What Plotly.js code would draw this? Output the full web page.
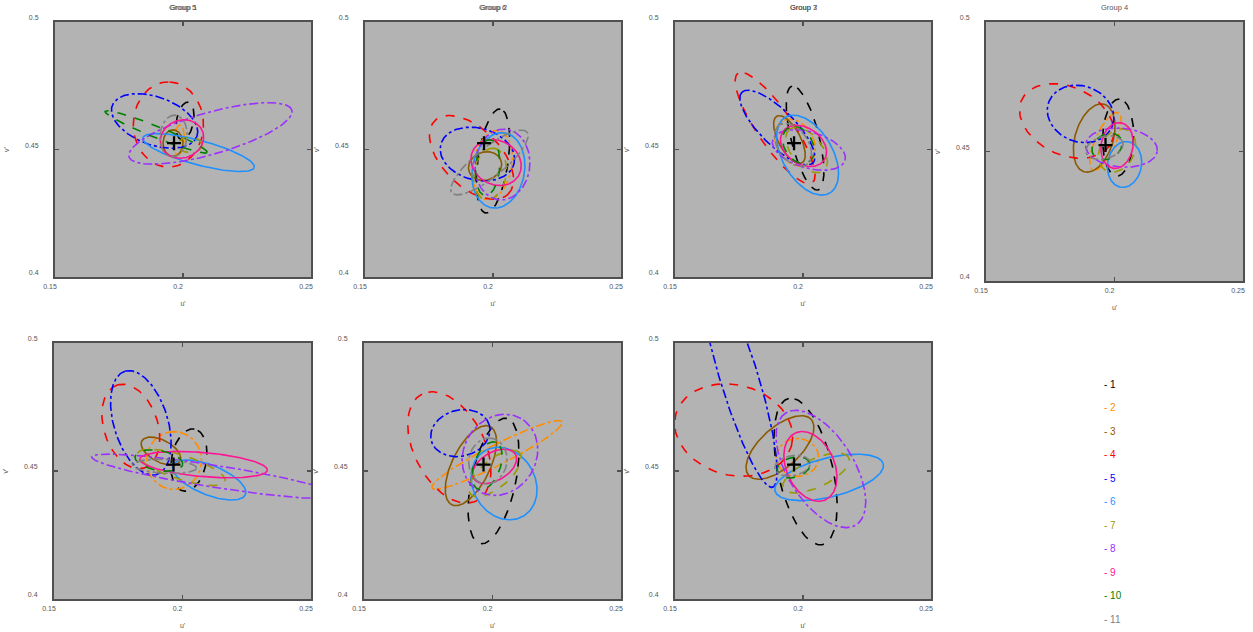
<!DOCTYPE html>
<html><head><meta charset="utf-8">
<script src="https://cdn.plot.ly/plotly-3.0.1.min.js"></script>
<style>html,body{margin:0;padding:0;background:#fff}#chart{width:1253px;height:632px}</style>
</head><body><div id="chart"></div>
<script>
// ---------- data ----------
const groupTitles = ['Group 1','Group 2','Group 3','Group 4','Group 5','Group 6','Group 7'];
const seriesLabels = ['1','2','3','4','5','6','7','8','9','10','11'];
const seriesColors = ['#000000','#ff8c00','#8b5a00','#ff0000','#0000ff','#1e90ff','#999900','#9b30ff','#ff1493','#008000','#808080'];
const seriesDash = ['dash','dashdot','solid','dash','dashdot','solid','dash','dashdot','solid','dash','dashdot'];
const whitePointU = [0.1965,0.1965,0.1965,0.1965,0.1965,0.1965,0.1965];
const whitePointV = [0.4525,0.4525,0.4525,0.4525,0.4525,0.4525,0.4525];
const uTicks = [0.15,0.2,0.25];
const uTickText = ['0.15','0.2','0.25'];
const vTicks = [0.4,0.45,0.5];
const vTickText = ['0.4','0.45','0.5'];
const uRange = [0.15,0.25];
const vRange = [0.4,0.5];
// ellipse centre u', centre v', semi-major, semi-minor, tilt (deg) : rows = groups, cols = series 1..11
const centerU = [
  [0.2008,0.1984,0.1961,0.1943,0.1889,0.2061,0.2027,0.2107,0.1996,0.1895,0.1963],
  [0.2000,0.1998,0.1969,0.1916,0.1939,0.2021,0.1988,0.2037,0.2012,0.1979,0.1986],
  [0.2008,0.1969,0.1947,0.1891,0.1900,0.2018,0.2014,0.2023,0.2002,0.1982,0.1961],
  [0.2014,0.1965,0.1921,0.1814,0.1868,0.2039,0.2010,0.2027,0.2010,0.1971,0.1961],
  [0.2025,0.1967,0.1916,0.1799,0.1838,0.2104,0.1996,0.2127,0.2082,0.1908,0.1930],
  [0.2004,0.2018,0.1916,0.1832,0.1875,0.2045,0.2010,0.2029,0.2008,0.1979,0.1982],
  [0.2010,0.1979,0.1910,0.1729,0.1750,0.2102,0.2051,0.2070,0.2029,0.1963,0.1959]
];
const centerV = [
  [0.4612,0.4537,0.4525,0.4598,0.4612,0.4488,0.4518,0.4563,0.4541,0.4569,0.4553],
  [0.4455,0.4439,0.4435,0.4469,0.4482,0.4418,0.4404,0.4441,0.4449,0.4429,0.4449],
  [0.4545,0.4527,0.4539,0.4584,0.4586,0.4478,0.4498,0.4498,0.4514,0.4518,0.4518],
  [0.4554,0.4539,0.4552,0.4618,0.4645,0.4450,0.4504,0.4515,0.4523,0.4519,0.4515],
  [0.4543,0.4541,0.4578,0.4674,0.4688,0.4465,0.4514,0.4479,0.4525,0.4541,0.4518],
  [0.4461,0.4563,0.4521,0.4592,0.4648,0.4451,0.4490,0.4563,0.4518,0.4520,0.4539],
  [0.4498,0.4553,0.4592,0.4660,0.4866,0.4475,0.4492,0.4508,0.4518,0.4514,0.4521]
];
const semiMajor = [
  [0.0075,0.0059,0.0052,0.0167,0.0176,0.0225,0.0047,0.0331,0.0086,0.0215,0.0082],
  [0.0206,0.0137,0.0066,0.0203,0.0148,0.0149,0.0102,0.0139,0.0102,0.0110,0.0189],
  [0.0210,0.0098,0.0104,0.0259,0.0196,0.0172,0.0105,0.0147,0.0098,0.0078,0.0094],
  [0.0149,0.0121,0.0136,0.0193,0.0132,0.0089,0.0089,0.0140,0.0089,0.0062,0.0074],
  [0.0123,0.0113,0.0084,0.0170,0.0211,0.0152,0.0179,0.0486,0.0249,0.0094,0.0125],
  [0.0250,0.0284,0.0170,0.0234,0.0117,0.0148,0.0125,0.0164,0.0094,0.0098,0.0090],
  [0.0293,0.0082,0.0164,0.0234,0.0449,0.0218,0.0141,0.0258,0.0143,0.0066,0.0070]
];
const semiMinor = [
  [0.0033,0.0020,0.0039,0.0137,0.0094,0.0048,0.0030,0.0082,0.0074,0.0022,0.0053],
  [0.0059,0.0075,0.0055,0.0113,0.0102,0.0102,0.0063,0.0107,0.0086,0.0047,0.0057],
  [0.0055,0.0072,0.0043,0.0070,0.0068,0.0098,0.0059,0.0071,0.0071,0.0055,0.0059],
  [0.0060,0.0040,0.0074,0.0131,0.0108,0.0066,0.0066,0.0075,0.0062,0.0047,0.0043],
  [0.0068,0.0107,0.0043,0.0105,0.0105,0.0058,0.0047,0.0043,0.0047,0.0039,0.0027],
  [0.0086,0.0040,0.0074,0.0137,0.0090,0.0121,0.0055,0.0141,0.0055,0.0051,0.0074],
  [0.0107,0.0074,0.0078,0.0176,0.0074,0.0076,0.0055,0.0129,0.0094,0.0039,0.0039]
];
const tiltDeg = [
  [80,85,90,90,-20,-15,0,16,20,-22,85],
  [82,80,20,-45,-15,80,80,85,-30,85,39],
  [104,120,118,124,135,120,130,-16,-35,120,125],
  [88,66,73,-25,-20,80,60,-5,80,30,15],
  [80,90,-28,108,107,-22,-18,-9,-5,-10,-3],
  [78,27,64,117,15,120,40,60,30,70,80],
  [103,0,42,-15,107,14,25,122,114,15,10]
];

// ---------- layout geometry (pixels) ----------
const W = 1253, H = 632;
const boxes = [[55,311,22,277],[365,621,22,277],[675,931,22,277],[986,1243,22,281],
               [54,311,343,599],[364,621,343,599],[675,931,343,599]];
const FONT = 'Liberation Sans, Arial, sans-serif';

function ellipse(cu, cv, a, b, deg) {
  const th = deg * Math.PI / 180, xs = [], ys = [];
  for (let i = 0; i <= 180; i++) {
    const t = 2 * Math.PI * i / 180;
    xs.push(cu + a * Math.cos(th) * Math.cos(t) - b * Math.sin(th) * Math.sin(t));
    ys.push(cv + a * Math.sin(th) * Math.cos(t) + b * Math.cos(th) * Math.sin(t));
  }
  return [xs, ys];
}

const traces = [];
const layout = {
  width: W, height: H, margin: {l:0, r:0, t:0, b:0},
  paper_bgcolor: '#ffffff', plot_bgcolor: '#b3b3b3',
  showlegend: false, font: {family: FONT, size: 7, color: '#444'},
  annotations: []
};

groupTitles.forEach((title, g) => {
  const sfx = g === 0 ? '' : String(g + 1);
  const [x0, x1, y0, y1] = boxes[g];
  const xa = 'x' + sfx, ya = 'y' + sfx;
  seriesLabels.forEach((lab, s) => {
    const [xs, ys] = ellipse(centerU[g][s], centerV[g][s], semiMajor[g][s], semiMinor[g][s], tiltDeg[g][s]);
    traces.push({type:'scatter', mode:'lines', x: xs, y: ys, xaxis: xa, yaxis: ya, name: lab,
      line: {color: seriesColors[s], dash: seriesDash[s], width: 1.6}, hoverinfo: 'skip'});
  });
  traces.push({type:'scatter', mode:'markers', x:[whitePointU[g]], y:[whitePointV[g]], xaxis: xa, yaxis: ya,
    marker: {symbol:'cross-thin', size: 10, line: {color:'#000', width: 2.3}}, hoverinfo:'skip'});

  const common = {showgrid:false, zeroline:false, showline:true, mirror:'ticks', linecolor:'#505050', linewidth:2,
    ticks:'inside', ticklen:4, tickwidth:1.2, tickcolor:'#505050', tickfont:{family:FONT, size:7, color:'#555'}};
  layout['xaxis' + sfx] = Object.assign({}, common, {
    domain:[x0 / W, x1 / W], range: uRange, anchor: ya, tickmode:'array', tickvals: uTicks, ticktext: uTickText,
    ticklabelshift: -5, ticklabelstandoff: 2,
    title: {text: "u'", font:{family:FONT, size:7, color:'#555'}, standoff: 12}
  });
  layout['yaxis' + sfx] = Object.assign({}, common, {
    domain:[1 - y1 / H, 1 - y0 / H], range: vRange, anchor: xa, tickmode:'array', tickvals: vTicks, ticktext: vTickText,
    ticklabelshift: -4, ticklabelstandoff: 13,
    title: {text: "v'", font:{family:FONT, size:7, color:'#555'}, standoff: 15}
  });
  layout.annotations.push({text: title, xref:'paper', yref:'paper', x: (x0 + x1) / 2 / W, y: 1 - 8 / H,
    xanchor:'center', yanchor:'middle', showarrow:false, font:{family:FONT, size:7.5, color:'#555'}});
});

// legend drawn as coloured entries
seriesLabels.forEach((lab, s) => {
  layout.annotations.push({text: '- ' + lab, xref:'paper', yref:'paper', x: 1102 / W, y: 1 - (384 + s * 23.5) / H,
    xanchor:'left', yanchor:'middle', showarrow:false, font:{family:FONT, size:10, color: seriesColors[s]}});
});

Plotly.newPlot('chart', traces, layout, {staticPlot: true});
</script>
</body></html>
